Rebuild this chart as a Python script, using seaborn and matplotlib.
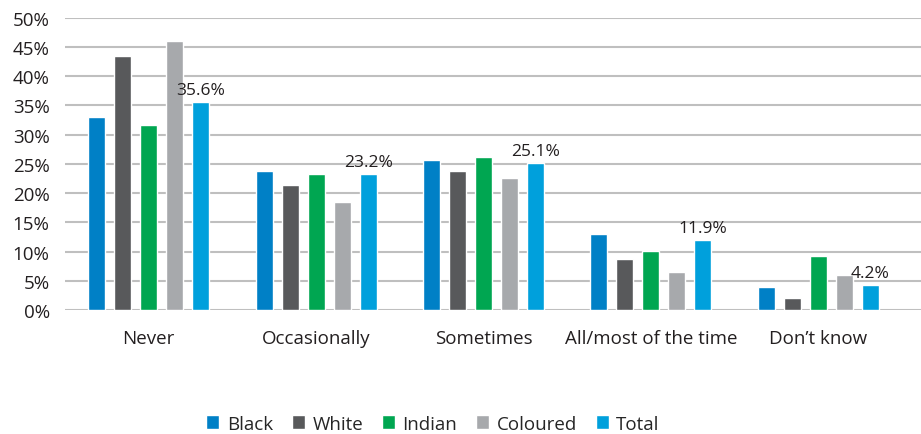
import pandas as pd
import matplotlib.pyplot as plt
import seaborn as sns

categories = ['Never', 'Occasionally', 'Sometimes', 'All/most of the time', 'Don\u2019t know']
groups = ['Black', 'White', 'Indian', 'Coloured', 'Total']
black = [33.0, 23.7, 25.7, 13.0, 3.9]
white = [43.4, 21.4, 23.7, 8.7, 2.0]
indian = [31.6, 23.2, 26.1, 10.1, 9.3]
coloured = [46.1, 18.5, 22.6, 6.5, 6.0]
total = [35.6, 23.2, 25.1, 11.9, 4.2]
colors = ['#0080c6', '#58595b', '#00a651', '#a7a9ac', '#00a0dc']

rows = []
for g, vals in zip(groups, [black, white, indian, coloured, total]):
    for c, v in zip(categories, vals):
        rows.append({'Category': c, 'Group': g, 'Value': v})
df = pd.DataFrame(rows)

sns.set_style('white')
plt.rcParams['font.family'] = ['Open Sans', 'DejaVu Sans']

fig = plt.figure(figsize=(9.21, 4.35), dpi=100)
ax = fig.add_axes([0.0705, 0.285, 0.9295, 0.672])

sns.barplot(data=df, x='Category', y='Value', hue='Group', palette=colors,
            width=0.777, gap=0.346, ax=ax, saturation=1)

# labels on the Total bars only
total_bars = ax.containers[-1]
ax.bar_label(total_bars, labels=[f'{v:.1f}%' for v in total], fontsize=12.5,
             padding=3, color='#231f20')

ax.set_xlim(-0.5, 4.613)
ax.set_ylim(0, 50)
ax.set_yticks(range(0, 51, 5))
ax.set_yticklabels([f'{t}%' for t in range(0, 51, 5)], fontsize=13.5, color='#231f20')
ax.tick_params(axis='x', labelsize=13.5, colors='#231f20', length=0, pad=14)
ax.tick_params(axis='y', length=0, pad=11)
ax.grid(axis='y', color='#bfbfbf', linewidth=1.5)
ax.set_axisbelow(True)
for s in ax.spines.values():
    s.set_visible(False)
ax.set_xlabel('')
ax.set_ylabel('')

ax.legend(loc='upper center', bbox_to_anchor=(0.43, -0.30), ncol=5, frameon=False,
          fontsize=13.5, handlelength=0.7, handleheight=0.7, handletextpad=0.4,
          columnspacing=1.0)

plt.savefig('out.png', dpi=100)
